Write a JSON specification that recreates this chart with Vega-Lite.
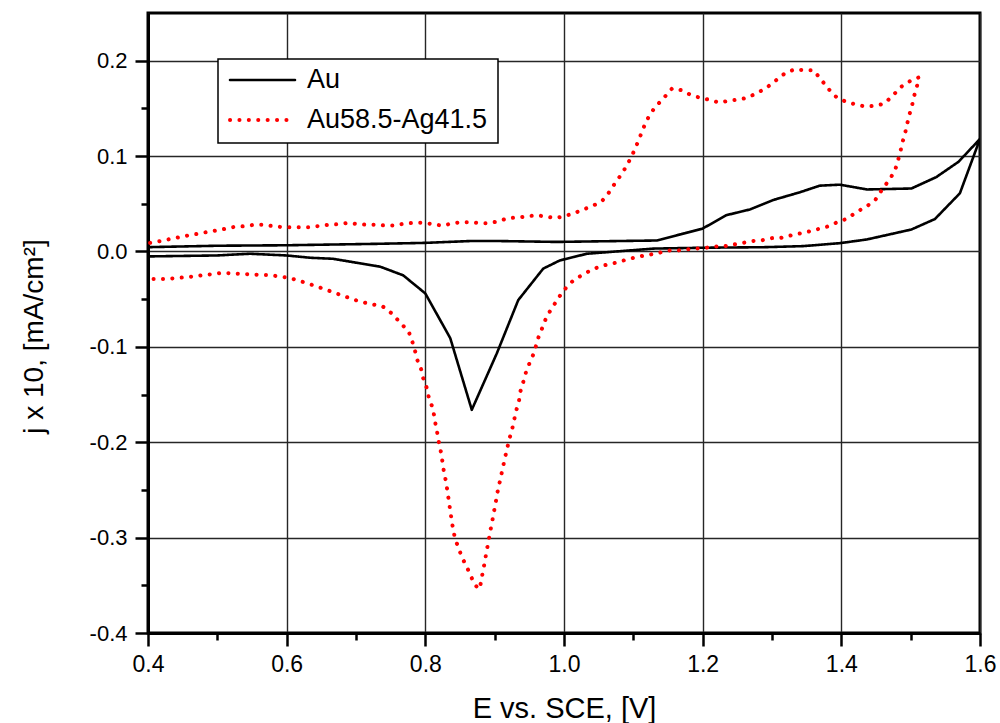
{
  "$schema": "https://vega.github.io/schema/vega-lite/v6.json",
  "width": 832,
  "height": 620,
  "autosize": "none",
  "padding": {"left": 148, "top": 13, "right": 20, "bottom": 90},
  "background": "white",
  "config": {
    "view": {"stroke": "black", "strokeWidth": 3},
    "font": "Liberation Sans"
  },
  "data": {"values": [
    {"s":"Au","i":0,"E":0.40,"j":0.0045},
    {"s":"Au","i":1,"E":0.50,"j":0.006},
    {"s":"Au","i":2,"E":0.60,"j":0.0065},
    {"s":"Au","i":3,"E":0.73,"j":0.008},
    {"s":"Au","i":4,"E":0.80,"j":0.009},
    {"s":"Au","i":5,"E":0.867,"j":0.011},
    {"s":"Au","i":6,"E":0.90,"j":0.011},
    {"s":"Au","i":7,"E":0.99,"j":0.010},
    {"s":"Au","i":8,"E":1.134,"j":0.0115},
    {"s":"Au","i":9,"E":1.20,"j":0.024},
    {"s":"Au","i":10,"E":1.234,"j":0.038},
    {"s":"Au","i":11,"E":1.268,"j":0.044},
    {"s":"Au","i":12,"E":1.302,"j":0.054},
    {"s":"Au","i":13,"E":1.34,"j":0.062},
    {"s":"Au","i":14,"E":1.369,"j":0.069},
    {"s":"Au","i":15,"E":1.398,"j":0.070},
    {"s":"Au","i":16,"E":1.437,"j":0.065},
    {"s":"Au","i":17,"E":1.501,"j":0.066},
    {"s":"Au","i":18,"E":1.537,"j":0.078},
    {"s":"Au","i":19,"E":1.569,"j":0.094},
    {"s":"Au","i":20,"E":1.60,"j":0.118},
    {"s":"Au","i":21,"E":1.571,"j":0.061},
    {"s":"Au","i":22,"E":1.535,"j":0.034},
    {"s":"Au","i":23,"E":1.501,"j":0.023},
    {"s":"Au","i":24,"E":1.437,"j":0.0126},
    {"s":"Au","i":25,"E":1.398,"j":0.0087},
    {"s":"Au","i":26,"E":1.345,"j":0.0056},
    {"s":"Au","i":27,"E":1.29,"j":0.0045},
    {"s":"Au","i":28,"E":1.20,"j":0.0039},
    {"s":"Au","i":29,"E":1.129,"j":0.003},
    {"s":"Au","i":30,"E":1.033,"j":-0.0024},
    {"s":"Au","i":31,"E":0.994,"j":-0.0094},
    {"s":"Au","i":32,"E":0.970,"j":-0.018},
    {"s":"Au","i":33,"E":0.934,"j":-0.051},
    {"s":"Au","i":34,"E":0.903,"j":-0.107},
    {"s":"Au","i":35,"E":0.867,"j":-0.166},
    {"s":"Au","i":36,"E":0.836,"j":-0.091},
    {"s":"Au","i":37,"E":0.80,"j":-0.044},
    {"s":"Au","i":38,"E":0.768,"j":-0.025},
    {"s":"Au","i":39,"E":0.735,"j":-0.016},
    {"s":"Au","i":40,"E":0.667,"j":-0.0077},
    {"s":"Au","i":41,"E":0.634,"j":-0.0066},
    {"s":"Au","i":42,"E":0.60,"j":-0.0042},
    {"s":"Au","i":43,"E":0.547,"j":-0.0024},
    {"s":"Au","i":44,"E":0.499,"j":-0.0042},
    {"s":"Au","i":45,"E":0.40,"j":-0.0052},
    {"s":"Au58.5-Ag41.5","i":0,"E":0.403,"j":0.009},
    {"s":"Au58.5-Ag41.5","i":1,"E":0.417,"j":0.0108},
    {"s":"Au58.5-Ag41.5","i":2,"E":0.431,"j":0.0129},
    {"s":"Au58.5-Ag41.5","i":3,"E":0.445,"j":0.0150},
    {"s":"Au58.5-Ag41.5","i":4,"E":0.458,"j":0.0168},
    {"s":"Au58.5-Ag41.5","i":5,"E":0.472,"j":0.0185},
    {"s":"Au58.5-Ag41.5","i":6,"E":0.484,"j":0.0202},
    {"s":"Au58.5-Ag41.5","i":7,"E":0.499,"j":0.022},
    {"s":"Au58.5-Ag41.5","i":8,"E":0.512,"j":0.0238},
    {"s":"Au58.5-Ag41.5","i":9,"E":0.526,"j":0.026},
    {"s":"Au58.5-Ag41.5","i":10,"E":0.540,"j":0.0265},
    {"s":"Au58.5-Ag41.5","i":11,"E":0.553,"j":0.028},
    {"s":"Au58.5-Ag41.5","i":12,"E":0.567,"j":0.028},
    {"s":"Au58.5-Ag41.5","i":13,"E":0.580,"j":0.0265},
    {"s":"Au58.5-Ag41.5","i":14,"E":0.594,"j":0.0255},
    {"s":"Au58.5-Ag41.5","i":15,"E":0.607,"j":0.0255},
    {"s":"Au58.5-Ag41.5","i":16,"E":0.621,"j":0.0255},
    {"s":"Au58.5-Ag41.5","i":17,"E":0.634,"j":0.0255},
    {"s":"Au58.5-Ag41.5","i":18,"E":0.648,"j":0.0269},
    {"s":"Au58.5-Ag41.5","i":19,"E":0.661,"j":0.028},
    {"s":"Au58.5-Ag41.5","i":20,"E":0.676,"j":0.0286},
    {"s":"Au58.5-Ag41.5","i":21,"E":0.689,"j":0.030},
    {"s":"Au58.5-Ag41.5","i":22,"E":0.703,"j":0.0286},
    {"s":"Au58.5-Ag41.5","i":23,"E":0.717,"j":0.028},
    {"s":"Au58.5-Ag41.5","i":24,"E":0.730,"j":0.028},
    {"s":"Au58.5-Ag41.5","i":25,"E":0.743,"j":0.0272},
    {"s":"Au58.5-Ag41.5","i":26,"E":0.756,"j":0.0272},
    {"s":"Au58.5-Ag41.5","i":27,"E":0.770,"j":0.0293},
    {"s":"Au58.5-Ag41.5","i":28,"E":0.784,"j":0.030},
    {"s":"Au58.5-Ag41.5","i":29,"E":0.798,"j":0.030},
    {"s":"Au58.5-Ag41.5","i":30,"E":0.811,"j":0.0286},
    {"s":"Au58.5-Ag41.5","i":31,"E":0.825,"j":0.027},
    {"s":"Au58.5-Ag41.5","i":32,"E":0.838,"j":0.0293},
    {"s":"Au58.5-Ag41.5","i":33,"E":0.851,"j":0.0307},
    {"s":"Au58.5-Ag41.5","i":34,"E":0.865,"j":0.0307},
    {"s":"Au58.5-Ag41.5","i":35,"E":0.879,"j":0.0297},
    {"s":"Au58.5-Ag41.5","i":36,"E":0.892,"j":0.0297},
    {"s":"Au58.5-Ag41.5","i":37,"E":0.906,"j":0.0318},
    {"s":"Au58.5-Ag41.5","i":38,"E":0.919,"j":0.0349},
    {"s":"Au58.5-Ag41.5","i":39,"E":0.933,"j":0.0356},
    {"s":"Au58.5-Ag41.5","i":40,"E":0.946,"j":0.0366},
    {"s":"Au58.5-Ag41.5","i":41,"E":0.960,"j":0.038},
    {"s":"Au58.5-Ag41.5","i":42,"E":0.974,"j":0.0366},
    {"s":"Au58.5-Ag41.5","i":43,"E":0.987,"j":0.035},
    {"s":"Au58.5-Ag41.5","i":44,"E":1.001,"j":0.037},
    {"s":"Au58.5-Ag41.5","i":45,"E":1.014,"j":0.040},
    {"s":"Au58.5-Ag41.5","i":46,"E":1.028,"j":0.044},
    {"s":"Au58.5-Ag41.5","i":47,"E":1.042,"j":0.048},
    {"s":"Au58.5-Ag41.5","i":48,"E":1.055,"j":0.053},
    {"s":"Au58.5-Ag41.5","i":49,"E":1.065,"j":0.062},
    {"s":"Au58.5-Ag41.5","i":50,"E":1.074,"j":0.072},
    {"s":"Au58.5-Ag41.5","i":51,"E":1.084,"j":0.082},
    {"s":"Au58.5-Ag41.5","i":52,"E":1.092,"j":0.092},
    {"s":"Au58.5-Ag41.5","i":53,"E":1.099,"j":0.102},
    {"s":"Au58.5-Ag41.5","i":54,"E":1.105,"j":0.112},
    {"s":"Au58.5-Ag41.5","i":55,"E":1.110,"j":0.121},
    {"s":"Au58.5-Ag41.5","i":56,"E":1.116,"j":0.132},
    {"s":"Au58.5-Ag41.5","i":57,"E":1.122,"j":0.141},
    {"s":"Au58.5-Ag41.5","i":58,"E":1.131,"j":0.151},
    {"s":"Au58.5-Ag41.5","i":59,"E":1.144,"j":0.161},
    {"s":"Au58.5-Ag41.5","i":60,"E":1.156,"j":0.171},
    {"s":"Au58.5-Ag41.5","i":61,"E":1.170,"j":0.169},
    {"s":"Au58.5-Ag41.5","i":62,"E":1.183,"j":0.164},
    {"s":"Au58.5-Ag41.5","i":63,"E":1.197,"j":0.161},
    {"s":"Au58.5-Ag41.5","i":64,"E":1.210,"j":0.159},
    {"s":"Au58.5-Ag41.5","i":65,"E":1.224,"j":0.156},
    {"s":"Au58.5-Ag41.5","i":66,"E":1.237,"j":0.158},
    {"s":"Au58.5-Ag41.5","i":67,"E":1.250,"j":0.159},
    {"s":"Au58.5-Ag41.5","i":68,"E":1.264,"j":0.161},
    {"s":"Au58.5-Ag41.5","i":69,"E":1.278,"j":0.166},
    {"s":"Au58.5-Ag41.5","i":70,"E":1.291,"j":0.171},
    {"s":"Au58.5-Ag41.5","i":71,"E":1.305,"j":0.179},
    {"s":"Au58.5-Ag41.5","i":72,"E":1.319,"j":0.187},
    {"s":"Au58.5-Ag41.5","i":73,"E":1.333,"j":0.191},
    {"s":"Au58.5-Ag41.5","i":74,"E":1.346,"j":0.190},
    {"s":"Au58.5-Ag41.5","i":75,"E":1.360,"j":0.190},
    {"s":"Au58.5-Ag41.5","i":76,"E":1.371,"j":0.180},
    {"s":"Au58.5-Ag41.5","i":77,"E":1.382,"j":0.170},
    {"s":"Au58.5-Ag41.5","i":78,"E":1.394,"j":0.161},
    {"s":"Au58.5-Ag41.5","i":79,"E":1.407,"j":0.157},
    {"s":"Au58.5-Ag41.5","i":80,"E":1.421,"j":0.154},
    {"s":"Au58.5-Ag41.5","i":81,"E":1.434,"j":0.152},
    {"s":"Au58.5-Ag41.5","i":82,"E":1.448,"j":0.1526},
    {"s":"Au58.5-Ag41.5","i":83,"E":1.462,"j":0.155},
    {"s":"Au58.5-Ag41.5","i":84,"E":1.475,"j":0.164},
    {"s":"Au58.5-Ag41.5","i":85,"E":1.485,"j":0.172},
    {"s":"Au58.5-Ag41.5","i":86,"E":1.502,"j":0.180},
    {"s":"Au58.5-Ag41.5","i":87,"E":1.512,"j":0.1825},
    {"s":"Au58.5-Ag41.5","i":88,"E":1.509,"j":0.173},
    {"s":"Au58.5-Ag41.5","i":89,"E":1.505,"j":0.163},
    {"s":"Au58.5-Ag41.5","i":90,"E":1.502,"j":0.153},
    {"s":"Au58.5-Ag41.5","i":91,"E":1.498,"j":0.143},
    {"s":"Au58.5-Ag41.5","i":92,"E":1.495,"j":0.134},
    {"s":"Au58.5-Ag41.5","i":93,"E":1.492,"j":0.124},
    {"s":"Au58.5-Ag41.5","i":94,"E":1.488,"j":0.114},
    {"s":"Au58.5-Ag41.5","i":95,"E":1.485,"j":0.104},
    {"s":"Au58.5-Ag41.5","i":96,"E":1.481,"j":0.0935},
    {"s":"Au58.5-Ag41.5","i":97,"E":1.477,"j":0.084},
    {"s":"Au58.5-Ag41.5","i":98,"E":1.468,"j":0.074},
    {"s":"Au58.5-Ag41.5","i":99,"E":1.458,"j":0.064},
    {"s":"Au58.5-Ag41.5","i":100,"E":1.449,"j":0.054},
    {"s":"Au58.5-Ag41.5","i":101,"E":1.436,"j":0.047},
    {"s":"Au58.5-Ag41.5","i":102,"E":1.421,"j":0.041},
    {"s":"Au58.5-Ag41.5","i":103,"E":1.409,"j":0.0345},
    {"s":"Au58.5-Ag41.5","i":104,"E":1.395,"j":0.031},
    {"s":"Au58.5-Ag41.5","i":105,"E":1.382,"j":0.0265},
    {"s":"Au58.5-Ag41.5","i":106,"E":1.368,"j":0.0238},
    {"s":"Au58.5-Ag41.5","i":107,"E":1.354,"j":0.021},
    {"s":"Au58.5-Ag41.5","i":108,"E":1.340,"j":0.0188},
    {"s":"Au58.5-Ag41.5","i":109,"E":1.327,"j":0.0168},
    {"s":"Au58.5-Ag41.5","i":110,"E":1.313,"j":0.0143},
    {"s":"Au58.5-Ag41.5","i":111,"E":1.300,"j":0.014},
    {"s":"Au58.5-Ag41.5","i":112,"E":1.286,"j":0.0118},
    {"s":"Au58.5-Ag41.5","i":113,"E":1.273,"j":0.011},
    {"s":"Au58.5-Ag41.5","i":114,"E":1.259,"j":0.0091},
    {"s":"Au58.5-Ag41.5","i":115,"E":1.245,"j":0.0073},
    {"s":"Au58.5-Ag41.5","i":116,"E":1.232,"j":0.0056},
    {"s":"Au58.5-Ag41.5","i":117,"E":1.218,"j":0.0052},
    {"s":"Au58.5-Ag41.5","i":118,"E":1.205,"j":0.0039},
    {"s":"Au58.5-Ag41.5","i":119,"E":1.191,"j":0.0031},
    {"s":"Au58.5-Ag41.5","i":120,"E":1.177,"j":0.0021},
    {"s":"Au58.5-Ag41.5","i":121,"E":1.164,"j":0.001},
    {"s":"Au58.5-Ag41.5","i":122,"E":1.150,"j":0.001},
    {"s":"Au58.5-Ag41.5","i":123,"E":1.137,"j":-0.0014},
    {"s":"Au58.5-Ag41.5","i":124,"E":1.123,"j":-0.0035},
    {"s":"Au58.5-Ag41.5","i":125,"E":1.110,"j":-0.005},
    {"s":"Au58.5-Ag41.5","i":126,"E":1.095,"j":-0.0077},
    {"s":"Au58.5-Ag41.5","i":127,"E":1.083,"j":-0.010},
    {"s":"Au58.5-Ag41.5","i":128,"E":1.069,"j":-0.0129},
    {"s":"Au58.5-Ag41.5","i":129,"E":1.055,"j":-0.015},
    {"s":"Au58.5-Ag41.5","i":130,"E":1.042,"j":-0.0185},
    {"s":"Au58.5-Ag41.5","i":131,"E":1.028,"j":-0.024},
    {"s":"Au58.5-Ag41.5","i":132,"E":1.014,"j":-0.030},
    {"s":"Au58.5-Ag41.5","i":133,"E":1.003,"j":-0.038},
    {"s":"Au58.5-Ag41.5","i":134,"E":0.992,"j":-0.0485},
    {"s":"Au58.5-Ag41.5","i":135,"E":0.984,"j":-0.058},
    {"s":"Au58.5-Ag41.5","i":136,"E":0.975,"j":-0.068},
    {"s":"Au58.5-Ag41.5","i":137,"E":0.970,"j":-0.078},
    {"s":"Au58.5-Ag41.5","i":138,"E":0.964,"j":-0.088},
    {"s":"Au58.5-Ag41.5","i":139,"E":0.960,"j":-0.098},
    {"s":"Au58.5-Ag41.5","i":140,"E":0.956,"j":-0.1075},
    {"s":"Au58.5-Ag41.5","i":141,"E":0.950,"j":-0.1176},
    {"s":"Au58.5-Ag41.5","i":142,"E":0.945,"j":-0.127},
    {"s":"Au58.5-Ag41.5","i":143,"E":0.941,"j":-0.1375},
    {"s":"Au58.5-Ag41.5","i":144,"E":0.937,"j":-0.147},
    {"s":"Au58.5-Ag41.5","i":145,"E":0.935,"j":-0.157},
    {"s":"Au58.5-Ag41.5","i":146,"E":0.931,"j":-0.167},
    {"s":"Au58.5-Ag41.5","i":147,"E":0.928,"j":-0.177},
    {"s":"Au58.5-Ag41.5","i":148,"E":0.925,"j":-0.187},
    {"s":"Au58.5-Ag41.5","i":149,"E":0.921,"j":-0.197},
    {"s":"Au58.5-Ag41.5","i":150,"E":0.918,"j":-0.2066},
    {"s":"Au58.5-Ag41.5","i":151,"E":0.915,"j":-0.216},
    {"s":"Au58.5-Ag41.5","i":152,"E":0.912,"j":-0.226},
    {"s":"Au58.5-Ag41.5","i":153,"E":0.909,"j":-0.236},
    {"s":"Au58.5-Ag41.5","i":154,"E":0.906,"j":-0.246},
    {"s":"Au58.5-Ag41.5","i":155,"E":0.903,"j":-0.256},
    {"s":"Au58.5-Ag41.5","i":156,"E":0.901,"j":-0.266},
    {"s":"Au58.5-Ag41.5","i":157,"E":0.898,"j":-0.276},
    {"s":"Au58.5-Ag41.5","i":158,"E":0.896,"j":-0.2855},
    {"s":"Au58.5-Ag41.5","i":159,"E":0.893,"j":-0.295},
    {"s":"Au58.5-Ag41.5","i":160,"E":0.891,"j":-0.305},
    {"s":"Au58.5-Ag41.5","i":161,"E":0.888,"j":-0.315},
    {"s":"Au58.5-Ag41.5","i":162,"E":0.886,"j":-0.325},
    {"s":"Au58.5-Ag41.5","i":163,"E":0.883,"j":-0.335},
    {"s":"Au58.5-Ag41.5","i":164,"E":0.881,"j":-0.3445},
    {"s":"Au58.5-Ag41.5","i":165,"E":0.878,"j":-0.354},
    {"s":"Au58.5-Ag41.5","i":166,"E":0.872,"j":-0.350},
    {"s":"Au58.5-Ag41.5","i":167,"E":0.866,"j":-0.341},
    {"s":"Au58.5-Ag41.5","i":168,"E":0.860,"j":-0.331},
    {"s":"Au58.5-Ag41.5","i":169,"E":0.853,"j":-0.321},
    {"s":"Au58.5-Ag41.5","i":170,"E":0.848,"j":-0.311},
    {"s":"Au58.5-Ag41.5","i":171,"E":0.843,"j":-0.3015},
    {"s":"Au58.5-Ag41.5","i":172,"E":0.840,"j":-0.291},
    {"s":"Au58.5-Ag41.5","i":173,"E":0.838,"j":-0.282},
    {"s":"Au58.5-Ag41.5","i":174,"E":0.836,"j":-0.272},
    {"s":"Au58.5-Ag41.5","i":175,"E":0.834,"j":-0.262},
    {"s":"Au58.5-Ag41.5","i":176,"E":0.832,"j":-0.252},
    {"s":"Au58.5-Ag41.5","i":177,"E":0.830,"j":-0.242},
    {"s":"Au58.5-Ag41.5","i":178,"E":0.827,"j":-0.232},
    {"s":"Au58.5-Ag41.5","i":179,"E":0.825,"j":-0.222},
    {"s":"Au58.5-Ag41.5","i":180,"E":0.823,"j":-0.212},
    {"s":"Au58.5-Ag41.5","i":181,"E":0.820,"j":-0.202},
    {"s":"Au58.5-Ag41.5","i":182,"E":0.818,"j":-0.193},
    {"s":"Au58.5-Ag41.5","i":183,"E":0.815,"j":-0.1825},
    {"s":"Au58.5-Ag41.5","i":184,"E":0.813,"j":-0.173},
    {"s":"Au58.5-Ag41.5","i":185,"E":0.810,"j":-0.163},
    {"s":"Au58.5-Ag41.5","i":186,"E":0.805,"j":-0.153},
    {"s":"Au58.5-Ag41.5","i":187,"E":0.802,"j":-0.143},
    {"s":"Au58.5-Ag41.5","i":188,"E":0.797,"j":-0.133},
    {"s":"Au58.5-Ag41.5","i":189,"E":0.794,"j":-0.1236},
    {"s":"Au58.5-Ag41.5","i":190,"E":0.788,"j":-0.113},
    {"s":"Au58.5-Ag41.5","i":191,"E":0.785,"j":-0.1037},
    {"s":"Au58.5-Ag41.5","i":192,"E":0.781,"j":-0.094},
    {"s":"Au58.5-Ag41.5","i":193,"E":0.776,"j":-0.084},
    {"s":"Au58.5-Ag41.5","i":194,"E":0.763,"j":-0.074},
    {"s":"Au58.5-Ag41.5","i":195,"E":0.751,"j":-0.0646},
    {"s":"Au58.5-Ag41.5","i":196,"E":0.738,"j":-0.0573},
    {"s":"Au58.5-Ag41.5","i":197,"E":0.724,"j":-0.0555},
    {"s":"Au58.5-Ag41.5","i":198,"E":0.711,"j":-0.0534},
    {"s":"Au58.5-Ag41.5","i":199,"E":0.697,"j":-0.0506},
    {"s":"Au58.5-Ag41.5","i":200,"E":0.683,"j":-0.0468},
    {"s":"Au58.5-Ag41.5","i":201,"E":0.670,"j":-0.0436},
    {"s":"Au58.5-Ag41.5","i":202,"E":0.656,"j":-0.0398},
    {"s":"Au58.5-Ag41.5","i":203,"E":0.643,"j":-0.0366},
    {"s":"Au58.5-Ag41.5","i":204,"E":0.629,"j":-0.0332},
    {"s":"Au58.5-Ag41.5","i":205,"E":0.616,"j":-0.0304},
    {"s":"Au58.5-Ag41.5","i":206,"E":0.603,"j":-0.0275},
    {"s":"Au58.5-Ag41.5","i":207,"E":0.589,"j":-0.0262},
    {"s":"Au58.5-Ag41.5","i":208,"E":0.576,"j":-0.0248},
    {"s":"Au58.5-Ag41.5","i":209,"E":0.562,"j":-0.0245},
    {"s":"Au58.5-Ag41.5","i":210,"E":0.548,"j":-0.0241},
    {"s":"Au58.5-Ag41.5","i":211,"E":0.534,"j":-0.0234},
    {"s":"Au58.5-Ag41.5","i":212,"E":0.521,"j":-0.023},
    {"s":"Au58.5-Ag41.5","i":213,"E":0.507,"j":-0.0223},
    {"s":"Au58.5-Ag41.5","i":214,"E":0.493,"j":-0.0238},
    {"s":"Au58.5-Ag41.5","i":215,"E":0.479,"j":-0.0248},
    {"s":"Au58.5-Ag41.5","i":216,"E":0.466,"j":-0.0262},
    {"s":"Au58.5-Ag41.5","i":217,"E":0.452,"j":-0.0272},
    {"s":"Au58.5-Ag41.5","i":218,"E":0.439,"j":-0.028},
    {"s":"Au58.5-Ag41.5","i":219,"E":0.425,"j":-0.029},
    {"s":"Au58.5-Ag41.5","i":220,"E":0.412,"j":-0.029},
    {"s":"Au58.5-Ag41.5","i":221,"E":0.400,"j":-0.029}
  ]},
  "mark": {"type": "line", "strokeCap": "round", "strokeJoin": "round", "clip": true},
  "encoding": {
    "x": {
      "field": "E", "type": "quantitative",
      "scale": {"domain": [0.4, 1.6], "nice": false, "zero": false},
      "axis": {
        "title": "E vs. SCE, [V]",
        "values": [0.4, 0.5, 0.6, 0.7, 0.8, 0.9, 1.0, 1.1, 1.2, 1.3, 1.4, 1.5, 1.6],
        "labelExpr": "abs(datum.value*5 - round(datum.value*5)) < 0.01 ? format(datum.value, '.1f') : ''",
        "labelFont": "Liberation Sans", "labelFontSize": 23, "labelColor": "black",
        "labelPadding": 7, "labelFlush": false, "labelOverlap": false,
        "tickColor": "black", "tickWidth": 2.5,
        "tickSize": {"condition": {"test": "abs(datum.value*5 - round(datum.value*5)) > 0.01", "value": 7}, "value": 13},
        "domainColor": "black", "domainWidth": 3,
        "grid": true, "gridColor": "#262626", "gridWidth": 1.4,
        "gridOpacity": {"condition": {"test": "abs(datum.value*5 - round(datum.value*5)) > 0.01", "value": 0}, "value": 1},
        "titleFont": "Liberation Sans", "titleFontSize": 29, "titleFontWeight": "normal", "titleColor": "black",
        "titleBaseline": "alphabetic", "titleY": 84
      }
    },
    "y": {
      "field": "j", "type": "quantitative",
      "scale": {"domain": [-0.4, 0.25], "nice": false, "zero": false},
      "axis": {
        "title": "j x 10, [mA/cm²]",
        "values": [-0.4, -0.35, -0.3, -0.25, -0.2, -0.15, -0.1, -0.05, 0, 0.05, 0.1, 0.15, 0.2],
        "labelExpr": "abs(datum.value*10 - round(datum.value*10)) < 0.01 ? replace(format(datum.value, '.1f'), '\u2212', '-') : ''",
        "labelFont": "Liberation Sans", "labelFontSize": 22, "labelColor": "black",
        "labelPadding": 8, "labelFlush": false, "labelOverlap": false,
        "tickColor": "black", "tickWidth": 2.5,
        "tickSize": {"condition": {"test": "abs(datum.value*10 - round(datum.value*10)) > 0.01", "value": 7}, "value": 13},
        "domainColor": "black", "domainWidth": 3,
        "grid": true, "gridColor": "#262626", "gridWidth": 1.4,
        "gridOpacity": {"condition": {"test": "abs(datum.value*10 - round(datum.value*10)) > 0.01", "value": 0}, "value": 1},
        "titleFont": "Liberation Sans", "titleFontSize": 28, "titleFontWeight": "normal", "titleColor": "black",
        "titleBaseline": "alphabetic", "titleX": -106, "titleY": 323, "titleAngle": -90
      }
    },
    "color": {
      "field": "s", "type": "nominal",
      "scale": {"domain": ["Au", "Au58.5-Ag41.5"], "range": ["#000000", "#ff0000"]},
      "legend": {
        "title": null, "orient": "none", "legendX": 70, "legendY": 46,
        "strokeColor": "black", "padding": 10, "fillColor": "white",
        "symbolType": "stroke", "symbolSize": 4225, "symbolStrokeWidth": 3,
        "labelFont": "Liberation Sans", "labelFontSize": 27, "labelColor": "black",
        "labelLimit": 0, "labelOffset": 10, "rowPadding": 13, "clipHeight": 22,
        "encode": {
          "legend": {"update": {"strokeWidth": {"value": 1.5}}},
          "symbols": {"update": {"strokeCap": {"value": "round"}}}
        }
      }
    },
    "strokeDash": {
      "field": "s", "type": "nominal",
      "scale": {"domain": ["Au", "Au58.5-Ag41.5"], "range": [[1, 0], [0.1, 9.3]]},
      "legend": null
    },
    "strokeWidth": {
      "field": "s", "type": "nominal",
      "scale": {"domain": ["Au", "Au58.5-Ag41.5"], "range": [2.6, 4]},
      "legend": null
    },
    "order": {"field": "i", "type": "quantitative"}
  }
}
